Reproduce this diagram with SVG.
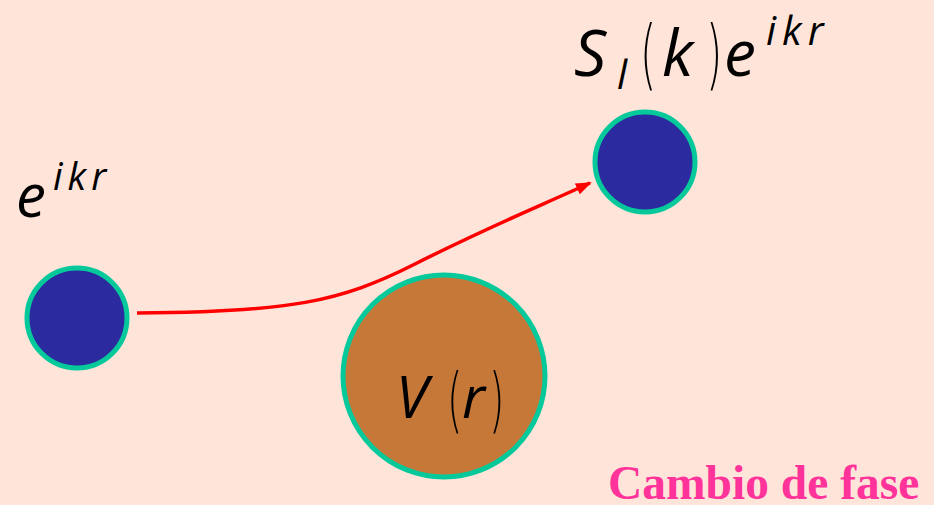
<svg xmlns="http://www.w3.org/2000/svg" width="934" height="505" viewBox="0 0 934 505">
<style>
.ball{fill:#2B2A9F;stroke:#05C99A;stroke-width:5}
.pot{fill:#C67838;stroke:#05C99A;stroke-width:5}
.m{font-family:"Open Sans","DejaVu Sans",sans-serif;font-style:italic;fill:#000}
.p{font-family:"DejaVu Sans",sans-serif;font-weight:200;fill:#000}
.lbl{font-family:"Liberation Serif",serif;font-weight:bold;fill:#FF3399}
</style>
<defs>
<marker id="ah" markerWidth="16" markerHeight="12" refX="14" refY="6" orient="auto" markerUnits="userSpaceOnUse">
<path d="M0,0 L16,6 L0,12 Z" fill="#FF0000"/>
</marker>
</defs>
<rect width="934" height="505" fill="#FFE4DA"/>
<g id="connectors">
<path d="M137,313 C290,312 340,302 415,264 S540,206 590,183" fill="none" stroke="#FF0000" stroke-width="3.5" marker-end="url(#ah)"/>
</g>
<g id="incident">
<circle class="ball" cx="77" cy="318" r="50"/>
<text class="m" x="16" y="217" font-size="60">e</text>
<text class="m" x="53" y="190" font-size="38" letter-spacing="5">ikr</text>
</g>
<g id="scattered">
<circle class="ball" cx="645" cy="162" r="50"/>
<text class="m" x="574" y="76" font-size="64">S</text>
<text class="m" x="617" y="89" font-size="40">l</text>
<text class="p" transform="translate(640,80) scale(0.55,1)" font-size="76">(</text>
<text class="m" x="662" y="76" font-size="64">k</text>
<text class="p" transform="translate(706,80) scale(0.55,1)" font-size="76">)</text>
<text class="m" x="724" y="76" font-size="64">e</text>
<text class="m" x="766" y="45" font-size="40" letter-spacing="6">ikr</text>
</g>
<g id="potential">
<circle class="pot" cx="444" cy="376" r="101"/>
<text class="m" x="396" y="418" font-size="58">V</text>
<text class="p" transform="translate(447,424) scale(0.55,1)" font-size="72">(</text>
<text class="m" x="462" y="418" font-size="58">r</text>
<text class="p" transform="translate(489,424) scale(0.55,1)" font-size="72">)</text>
</g>
<g id="label">
<text class="lbl" x="608" y="499" font-size="47.5">Cambio de fase</text>
</g>
</svg>
